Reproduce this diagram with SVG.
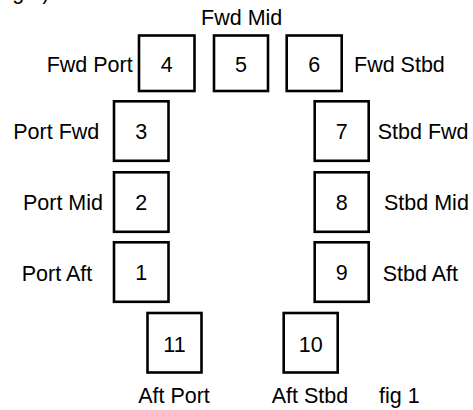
<svg xmlns="http://www.w3.org/2000/svg" width="473" height="410" viewBox="0 0 473 410">
<style>
  .box { fill: #ffffff; stroke: #000000; stroke-width: 2.6; }
  text { font-family: "Liberation Sans", Arial, sans-serif; font-size: 21.5px; fill: #000000; }
  .num { text-anchor: middle; }
  .r { text-anchor: end; }
  .c { text-anchor: middle; }
</style>
<rect width="473" height="410" fill="#ffffff"/>
<text x="1.5" y="-1">fig 1)</text>
<g id="connectors"></g>
<g id="node-4"><rect class="box" x="139" y="35.5" width="55.5" height="55.5"/><text class="num" x="166.8" y="71.5">4</text></g>
<g id="node-5"><rect class="box" x="214" y="35.5" width="54" height="55.5"/><text class="num" x="241" y="71.5">5</text></g>
<g id="node-6"><rect class="box" x="286.7" y="35.5" width="55" height="55.5"/><text class="num" x="314.2" y="71.5">6</text></g>
<g id="node-3"><rect class="box" x="114" y="101.3" width="54.5" height="59.5"/><text class="num" x="141.2" y="139">3</text></g>
<g id="node-2"><rect class="box" x="114" y="172.3" width="54.5" height="59.5"/><text class="num" x="141.2" y="210">2</text></g>
<g id="node-1"><rect class="box" x="114" y="242.3" width="54.5" height="59.5"/><text class="num" x="141.2" y="280">1</text></g>
<g id="node-7"><rect class="box" x="314.7" y="101.3" width="54" height="59.5"/><text class="num" x="341.7" y="139">7</text></g>
<g id="node-8"><rect class="box" x="314.7" y="172.3" width="54" height="59.5"/><text class="num" x="341.7" y="210">8</text></g>
<g id="node-9"><rect class="box" x="314.7" y="242.3" width="54" height="59.5"/><text class="num" x="341.7" y="280">9</text></g>
<g id="node-11"><rect class="box" x="147.5" y="313" width="54" height="59.5"/><text class="num" x="174.5" y="351.5">11</text></g>
<g id="node-10"><rect class="box" x="283.7" y="313" width="54" height="59.5"/><text class="num" x="310.7" y="351.5">10</text></g>
<g id="labels">
  <text class="c" x="241.7" y="25">Fwd Mid</text>
  <text class="r" x="132.7" y="71.5">Fwd Port</text>
  <text x="354" y="71.5">Fwd Stbd</text>
  <text class="r" x="99.3" y="139">Port Fwd</text>
  <text x="377.7" y="139">Stbd Fwd</text>
  <text class="r" x="103" y="210">Port Mid</text>
  <text x="384" y="210">Stbd Mid</text>
  <text class="r" x="92.3" y="281">Port Aft</text>
  <text x="382.7" y="281">Stbd Aft</text>
  <text class="c" x="174" y="403">Aft Port</text>
  <text class="c" x="310" y="403">Aft Stbd</text>
  <text x="379" y="403">fig 1</text>
</g>
</svg>
